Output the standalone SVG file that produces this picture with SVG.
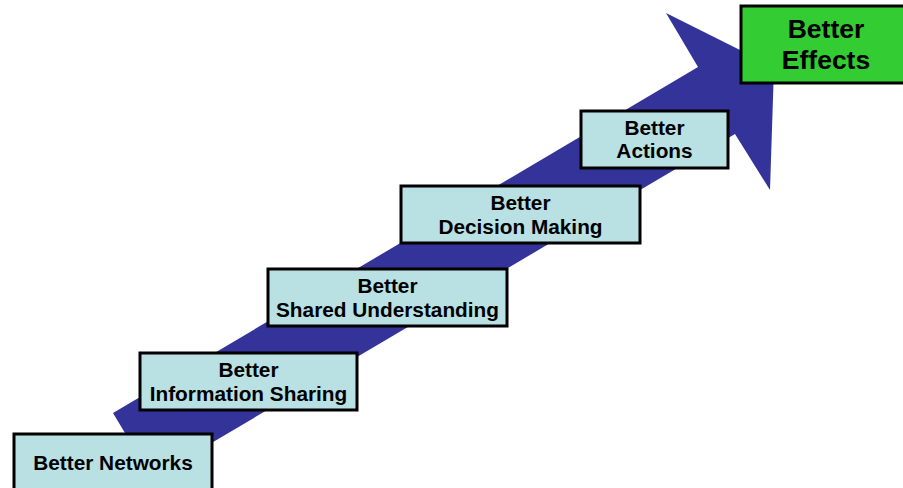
<svg xmlns="http://www.w3.org/2000/svg" width="903" height="488" viewBox="0 0 903 488">
<style>
.box{fill:#B9E0E3;stroke:#000;stroke-width:3}
.green{fill:#33CC33;stroke:#000;stroke-width:3}
.t{font-family:"Liberation Sans",Arial,sans-serif;font-weight:bold;font-size:20.8px;fill:#000;text-anchor:middle}
.tb{font-family:"Liberation Sans",Arial,sans-serif;font-weight:bold;font-size:26.5px;fill:#000;text-anchor:middle}
</style>
<rect width="903" height="488" fill="#fff"/>
<g id="connectors">
<polygon fill="#333399" points="113,413 698,67 666,13 774,67 770,190 735,134 152,478"/>
</g>
<g id="n1"><rect class="box" x="14" y="434" width="198" height="60"/><text class="t" x="113" y="470">Better Networks</text></g>
<g id="n2"><rect class="box" x="140" y="353" width="217" height="57"/><text class="t" x="248.500" y="377">Better</text><text class="t" x="248.500" y="401">Information Sharing</text></g>
<g id="n3"><rect class="box" x="268" y="269" width="239" height="57"/><text class="t" x="387.500" y="293">Better</text><text class="t" x="387.500" y="317">Shared Understanding</text></g>
<g id="n4"><rect class="box" x="401" y="186" width="239" height="57"/><text class="t" x="520.500" y="210">Better</text><text class="t" x="520.500" y="234">Decision Making</text></g>
<g id="n5"><rect class="box" x="581" y="111" width="147" height="57"/><text class="t" x="654.500" y="135">Better</text><text class="t" x="654.500" y="158">Actions</text></g>
<g id="n6"><rect class="green" x="741" y="6" width="164" height="77"/><text class="tb" x="826" y="38">Better</text><text class="tb" x="826" y="69">Effects</text></g>
</svg>
